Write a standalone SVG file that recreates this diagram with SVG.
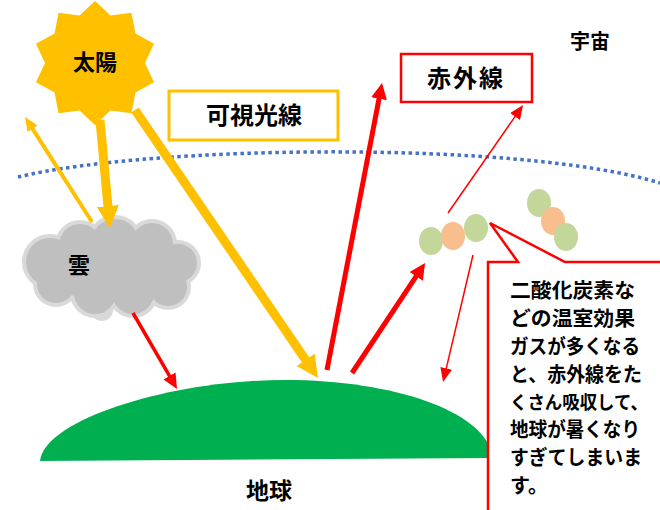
<svg xmlns="http://www.w3.org/2000/svg" width="660" height="510" viewBox="0 0 660 510">
  <style>
    .lbl { font-family: "Liberation Sans", "Noto Sans CJK JP", sans-serif; font-weight: bold; fill: #000; dominant-baseline: central; }
    .mid { text-anchor: middle; }
    .yel { stroke: #FFC000; fill: none; }
    .red { stroke: #FF0000; fill: none; }
    .g { fill: #C4D79B; }
    .o { fill: #F8BE8E; }
    .cloudEdge circle, .cloudEdge ellipse { fill: #BFBFBF; stroke: #D9D9D9; stroke-width: 8; }
    .cloudFill circle, .cloudFill ellipse { fill: #BFBFBF; }
  </style>
  <defs>
    <marker id="yBig" markerUnits="userSpaceOnUse" markerWidth="22" markerHeight="22" refX="2" refY="11" orient="auto">
      <path d="M0,0 L22,11 L0,22 Z" fill="#FFC000"/>
    </marker>
    <marker id="ySmall" markerUnits="userSpaceOnUse" markerWidth="14" markerHeight="12" refX="2" refY="6" orient="auto">
      <path d="M0,0 L14,6 L0,12 Z" fill="#FFC000"/>
    </marker>
    <marker id="rBig" markerUnits="userSpaceOnUse" markerWidth="16" markerHeight="16" refX="2" refY="8" orient="auto">
      <path d="M0,0 L16,8 L0,16 Z" fill="#FF0000"/>
    </marker>
    <marker id="rMid" markerUnits="userSpaceOnUse" markerWidth="15" markerHeight="14" refX="2" refY="7" orient="auto">
      <path d="M0,0 L15,7 L0,14 Z" fill="#FF0000"/>
    </marker>
    <marker id="rSmall" markerUnits="userSpaceOnUse" markerWidth="14" markerHeight="12" refX="2" refY="6" orient="auto">
      <path d="M0,0 L14,6 L0,12 Z" fill="#FF0000"/>
    </marker>
  </defs>

  <rect width="660" height="510" fill="#FFFFFF"/>

  <!-- atmosphere boundary -->
  <path id="atmosphere" d="M18,177 C150,145 520,140 660,183" fill="none" stroke="#4472C4" stroke-width="3.5" stroke-dasharray="3.5 3.5"/>

  <!-- earth -->
  <g id="earth">
    <path d="M40,461 C44,420 170,380 285,380 C395,380 482,412 491,452 L491,458 Z" fill="#00B050"/>
    <text class="lbl mid" x="269" y="491" font-size="23">地球</text>
  </g>

  <!-- cloud: outlined bumps underneath, plain fill on top -->
  <g id="cloud">
    <g class="cloudEdge">
      <ellipse cx="110" cy="270" rx="70" ry="30"/>
      <circle cx="50" cy="262" r="24"/>
      <circle cx="80" cy="245" r="21"/>
      <circle cx="115" cy="243" r="24"/>
      <circle cx="152" cy="244" r="21"/>
      <circle cx="178" cy="263" r="19"/>
      <circle cx="168" cy="287" r="19"/>
      <circle cx="133" cy="293" r="21"/>
      <circle cx="95" cy="293" r="21"/>
      <circle cx="56" cy="284" r="19"/>
      <circle cx="102" cy="310" r="7"/>
    </g>
    <g class="cloudFill">
      <ellipse cx="110" cy="270" rx="70" ry="30"/>
      <circle cx="50" cy="262" r="24"/>
      <circle cx="80" cy="245" r="21"/>
      <circle cx="115" cy="243" r="24"/>
      <circle cx="152" cy="244" r="21"/>
      <circle cx="178" cy="263" r="19"/>
      <circle cx="168" cy="287" r="19"/>
      <circle cx="133" cy="293" r="21"/>
      <circle cx="95" cy="293" r="21"/>
      <circle cx="56" cy="284" r="19"/>
    </g>
    <text class="lbl mid" x="79" y="265" font-size="22">雲</text>
  </g>

  <!-- connectors -->
  <g id="connectors">
    <line class="yel" x1="135" y1="110" x2="306.7" y2="361.5" stroke-width="9" marker-end="url(#yBig)"/>
    <line class="yel" x1="100" y1="120" x2="108.1" y2="208.1" stroke-width="9" marker-end="url(#yBig)"/>
    <line class="yel" x1="92" y1="222" x2="31.5" y2="127.1" stroke-width="4" marker-end="url(#ySmall)"/>
    <line class="red" x1="327" y1="370" x2="379.4" y2="96.7" stroke-width="5" marker-end="url(#rBig)"/>
    <line class="red" x1="352" y1="373" x2="417.3" y2="274.7" stroke-width="5" marker-end="url(#rBig)"/>
    <line class="red" x1="448" y1="213" x2="516.2" y2="114.9" stroke-width="1.5" marker-end="url(#rSmall)"/>
    <line class="red" x1="473" y1="255" x2="445.8" y2="370.3" stroke-width="1.5" marker-end="url(#rSmall)"/>
    <line class="red" x1="133" y1="313" x2="170.5" y2="377.7" stroke-width="3.5" marker-end="url(#rMid)"/>
  </g>

  <!-- sun: ten-pointed star -->
  <g id="sun">
    <polygon fill="#FFC000" points="95,1 110.5,15.4 131.4,12.8 135.5,33.6 154,43.8 145,63 154,82.2 135.5,92.4 131.4,113.2 110.5,110.6 95,125 79.5,110.6 58.6,113.2 54.5,92.4 36,82.2 45,63 36,43.8 54.5,33.6 58.6,12.8 79.5,15.4"/>
    <text class="lbl mid" x="95" y="62" font-size="22">太陽</text>
  </g>

  <!-- labels -->
  <g id="visible">
    <rect x="169" y="91" width="169" height="49" fill="#FFFFFF" stroke="#FFC000" stroke-width="3"/>
    <text class="lbl mid" x="254" y="115" font-size="24">可視光線</text>
  </g>
  <g id="infrared">
    <rect x="401" y="54" width="131" height="48" fill="#FFFFFF" stroke="#FF0000" stroke-width="2.5"/>
    <text class="lbl mid" x="466" y="78" font-size="24" letter-spacing="2">赤外線</text>
  </g>
  <g id="space">
    <text class="lbl mid" x="590" y="42" font-size="20">宇宙</text>
  </g>

  <!-- greenhouse gas molecules -->
  <g id="molecule1">
    <ellipse class="g" cx="431" cy="241" rx="12" ry="14"/>
    <ellipse class="o" cx="453" cy="236" rx="12" ry="14"/>
    <ellipse class="g" cx="476" cy="228" rx="12" ry="14"/>
  </g>
  <g id="molecule2">
    <ellipse class="g" cx="539" cy="203" rx="12" ry="14"/>
    <ellipse class="o" cx="553" cy="221" rx="12" ry="14"/>
    <ellipse class="g" cx="566" cy="237" rx="12" ry="14"/>
  </g>

  <!-- explanation callout -->
  <g id="callout">
    <path d="M488,262 L518,262 L490,223 L565,262 L663,262 L663,513 L488,513 Z" fill="#FFFFFF" stroke="#FF0000" stroke-width="2.5"/>
    <g class="lbl" font-size="20">
      <text class="lbl" x="510" y="291" textLength="125" lengthAdjust="spacingAndGlyphs">二酸化炭素な</text>
      <text class="lbl" x="510" y="319" textLength="125" lengthAdjust="spacingAndGlyphs">どの温室効果</text>
      <text class="lbl" x="510" y="347" textLength="130" lengthAdjust="spacingAndGlyphs">ガスが多くなる</text>
      <text class="lbl" x="510" y="375" textLength="132" lengthAdjust="spacingAndGlyphs">と、赤外線をた</text>
      <text class="lbl" x="510" y="402" font-size="18.5" textLength="138" lengthAdjust="spacingAndGlyphs">くさん吸収して、</text>
      <text class="lbl" x="510" y="430" textLength="130" lengthAdjust="spacingAndGlyphs">地球が暑くなり</text>
      <text class="lbl" x="510" y="458" textLength="132" lengthAdjust="spacingAndGlyphs">すぎてしまいま</text>
      <text class="lbl" x="510" y="486">す。</text>
    </g>
  </g>
</svg>
